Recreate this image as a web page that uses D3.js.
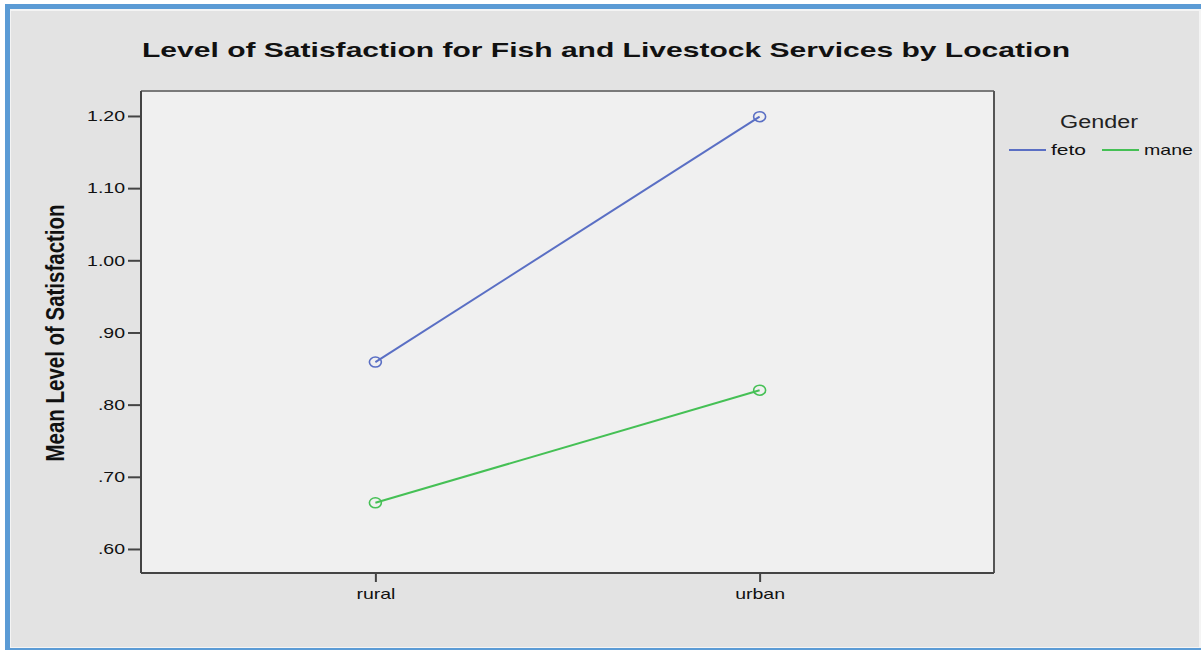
<!DOCTYPE html>
<html><head><meta charset="utf-8">
<script src="https://cdn.jsdelivr.net/npm/d3@7"></script>
<style>html,body{margin:0;padding:0;background:#fff;}svg{display:block;}</style>
</head><body>
<script>
const categories = ["rural", "urban"];
const seriesNames = ["feto", "mane"];
const fetoValues = [0.859, 1.199];
const maneValues = [0.664, 0.820];
const yTicks = [0.60, 0.70, 0.80, 0.90, 1.00, 1.10, 1.20];
const yTickLabels = [".60", ".70", ".80", ".90", "1.00", "1.10", "1.20"];
const colors = ["#5a6fc4", "#45c055"];

const W = 1201, H = 650;
const FONT = "'Liberation Sans', Arial, sans-serif";
const svg = d3.select("body").append("svg").attr("width", W).attr("height", H);

function stretch(sel, f) {
  sel.each(function(){
    const L = this.getComputedTextLength();
    d3.select(this).attr("textLength", L * f).attr("lengthAdjust", "spacingAndGlyphs");
  });
}

// frame
svg.append("rect").attr("x",0).attr("y",0).attr("width",W).attr("height",H).attr("fill","#ffffff");
svg.append("rect").attr("x",5).attr("y",4).attr("width",W-5).attr("height",H-4).attr("fill","#5b9bd5");
svg.append("rect").attr("x",10).attr("y",9).attr("width",W-10).attr("height",H-11).attr("fill","#f4f4f4");
svg.append("rect").attr("x",11).attr("y",11).attr("width",1188).attr("height",636).attr("fill","#e3e3e3");

const plot = {l:141, t:91, r:994, b:573};
svg.append("rect").attr("x",plot.l).attr("y",plot.t).attr("width",plot.r-plot.l).attr("height",plot.b-plot.t)
  .attr("fill","#f0f0f0");

const y = d3.scaleLinear().domain([0.5667, 1.2346]).range([plot.b, plot.t]);
const x = d3.scalePoint().domain(categories).range([plot.l, plot.r]).padding(0.61);

// frame lines
svg.append("line").attr("x1",plot.l).attr("x2",plot.r).attr("y1",plot.t).attr("y2",plot.t).attr("stroke","#7a7a7a").attr("stroke-width",2);
svg.append("line").attr("x1",plot.r).attr("x2",plot.r).attr("y1",plot.t).attr("y2",plot.b).attr("stroke","#555").attr("stroke-width",2);

const yAxis = svg.append("g").attr("transform",`translate(${plot.l},0)`)
  .call(d3.axisLeft(y).tickValues(yTicks).tickFormat((d,i)=>yTickLabels[i]).tickSize(13).tickPadding(3).tickSizeOuter(0));
const xAxis = svg.append("g").attr("transform",`translate(0,${plot.b})`)
  .call(d3.axisBottom(x).tickSize(9).tickPadding(6).tickSizeOuter(0));
[yAxis, xAxis].forEach(a=>{
  a.select(".domain").attr("stroke","#444").attr("stroke-width",2);
  a.selectAll(".tick line").attr("stroke","#444").attr("stroke-width",2);
  a.selectAll(".tick text").attr("fill","#111").style("font-family",FONT).style("font-size","15px");
  stretch(a.selectAll(".tick text"), 1.3);
});
yAxis.select(".domain").attr("d",`M0,${plot.t}V${plot.b}`);
xAxis.select(".domain").attr("d",`M${plot.l},0H${plot.r}`);

// series
const series = [fetoValues, maneValues];
const line = d3.line().x((d,i)=>x(categories[i])).y(d=>y(d));
series.forEach((vals,si)=>{
  svg.append("path").datum(vals).attr("d",line).attr("fill","none").attr("stroke",colors[si]).attr("stroke-width",2);
  svg.selectAll(null).data(vals).enter().append("ellipse")
    .attr("cx",(d,i)=>x(categories[i])).attr("cy",d=>y(d)).attr("rx",6).attr("ry",5)
    .attr("fill","none").attr("stroke",colors[si]).attr("stroke-width",1.6);
});

// title
svg.append("text").attr("x",606).attr("y",57).attr("text-anchor","middle")
  .attr("textLength",928).attr("lengthAdjust","spacingAndGlyphs")
  .style("font-family",FONT).style("font-weight","bold").style("font-size","21px").attr("fill","#111")
  .text("Level of Satisfaction for Fish and Livestock Services by Location");

// y label
svg.append("text").attr("transform","translate(64,333) scale(1.25,1) rotate(-90)").attr("text-anchor","middle")
  .attr("textLength",257).attr("lengthAdjust","spacingAndGlyphs")
  .style("font-family","'Liberation Sans Narrow', 'Liberation Sans', Arial, sans-serif").style("font-weight","bold").style("font-size","21px").attr("fill","#111")
  .text("Mean Level of Satisfaction");

// legend
svg.append("text").attr("x",1099).attr("y",128).attr("text-anchor","middle")
  .attr("textLength",78).attr("lengthAdjust","spacingAndGlyphs")
  .style("font-family",FONT).style("font-size","18px").attr("fill","#222").text("Gender");
const legX = [1009, 1102];
const legW = [35, 49];
seriesNames.forEach((n,i)=>{
  svg.append("line").attr("x1",legX[i]).attr("x2",legX[i]+37).attr("y1",150).attr("y2",150).attr("stroke",colors[i]).attr("stroke-width",2);
  svg.append("text").attr("x",legX[i]+42).attr("y",155)
    .attr("textLength",legW[i]).attr("lengthAdjust","spacingAndGlyphs")
    .style("font-family",FONT).style("font-size","15px").attr("fill","#111").text(n);
});
</script>
</body></html>
